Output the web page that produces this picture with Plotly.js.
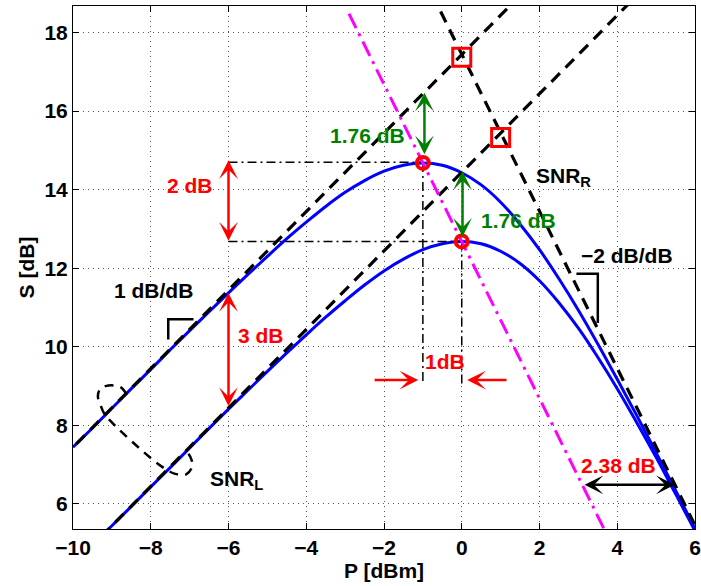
<!DOCTYPE html>
<html>
<head>
<meta charset="utf-8">
<script src="https://cdn.plot.ly/plotly-3.0.1.min.js"></script>
<style>html,body{margin:0;padding:0;background:#fff;}#chart{width:701px;height:586px;}</style>
</head>
<body>
<div id="chart"></div>
<script>
// ---- data ----
const powerP = [-10,-9.5,-9,-8.5,-8,-7.5,-7,-6.5,-6,-5.5,-5,-4.5,-4,-3.5,-3,-2.5,-2,-1.5,-1,-0.5,0,0.5,1,1.5,2,2.5,3,3.5,4,4.5,5,5.5,6];
const snrUpper = [7.44,7.93,8.43,8.93,9.42,9.92,10.41,10.89,11.37,11.84,12.30,12.75,13.17,13.57,13.93,14.23,14.47,14.62,14.68,14.62,14.43,14.12,13.68,13.12,12.47,11.73,10.93,10.07,9.17,8.25,7.30,6.34,5.37];
const snrLower = [4.44,4.94,5.44,5.93,6.43,6.92,7.42,7.92,8.41,8.89,9.37,9.84,10.30,10.75,11.17,11.57,11.93,12.23,12.47,12.62,12.68,12.62,12.43,12.12,11.68,11.12,10.47,9.73,8.93,8.07,7.18,6.25,5.31];

const asymUpperP = [-11, 2];      const asymUpperS = [6.44, 19.44];
const asymLowerP = [-10, 5];      const asymLowerS = [4.44, 19.44];
const asymHighP  = [-1, 6];       const asymHighS  = [19.45, 5.45];
const optLocusP  = [-2.9, 3.65];  const optLocusS  = [18.48, 5.38];

const peakP = [-1, 0];            const peakS = [14.68, 12.68];
const crossP = [0, 1];            const crossS = [17.37, 15.33];

const guideHupP = [-6, -1];       const guideHupS = [14.70, 14.70];
const guideHloP = [-6, 0];        const guideHloS = [12.68, 12.68];
const guideVupP = [-1, -1];       const guideVupS = [14.68, 9.05];
const guideVloP = [0, 0];         const guideVloS = [12.68, 9.05];

const slope1P = [-6.90, -7.55, -7.55];   const slope1S = [10.70, 10.70, 10.18];
const slope2P = [2.95, 3.50, 3.50];      const slope2S = [11.86, 11.86, 10.60];

const braceP = [-8.63,-8.78,-9.09,-9.30,-9.36,-9.28,-9.20,-9.05,-8.01,-7.63,-7.37,-7.09,-6.93,-6.98,-7.09];
const braceS = [8.80,8.97,9.01,8.92,8.74,8.48,8.30,8.12,7.17,6.89,6.76,6.75,6.96,7.19,7.35];

// arrows: [tipP, tipS, tailP, tailS, colour, double]
const arrows = [
  [-6, 14.75, -6, 12.66, 'red', true],
  [-6, 11.37, -6, 8.45, 'red', true],
  [-1.12, 9.15, -2.28, 9.15, 'red', false],
  [0.14, 9.15, 1.19, 9.15, 'red', false],
  [-0.96, 16.47, -0.96, 14.86, '#008000', true],
  [0.02, 14.47, 0.02, 12.76, '#008000', true],
  [5.48, 6.48, 3.12, 6.48, 'black', true]
];

// labels: [text, P, S, colour, size, anchor, family]
const FONT = 'Liberation Sans, Arial, sans-serif';
const NARROW = 'Liberation Sans Narrow, Liberation Sans, Arial, sans-serif';
const labels = [
  ['1.76 dB', -2.42, 15.39, '#008000', 21, 'center', FONT],
  ['1.76 dB', 1.47, 13.21, '#008000', 21, 'center', FONT],
  ['2 dB', -6.98, 14.11, 'red', 21, 'center', FONT],
  ['3 dB', -5.17, 10.29, 'red', 21, 'center', FONT],
  ['1dB', -0.43, 9.61, 'red', 21, 'center', FONT],
  ['2.38 dB', 4.04, 6.97, 'red', 21, 'center', FONT],
  ['1 dB/dB', -7.94, 11.44, 'black', 21, 'center', FONT],
  ['\u22122 dB/dB', 4.26, 12.32, 'black', 21, 'center', FONT],
  ['SNR<sub>R</sub>', 1.86, 14.33, 'black', 21, 'left', NARROW],
  ['SNR<sub>L</sub>', -6.52, 6.61, 'black', 21, 'left', NARROW]
];

const xTicks = [-10,-8,-6,-4,-2,0,2,4,6];
const yTicks = [6,8,10,12,14,16,18];

// ---- traces ----
const traces = [];
const line = (x, y, color, width, dash, shape) => ({
  x, y, type: 'scatter', mode: 'lines', hoverinfo: 'skip', showlegend: false,
  line: {color, width, dash: dash || 'solid', shape: shape || 'linear'}
});
traces.push(line(powerP, snrUpper, '#0000ff', 3, 'solid', 'spline'));
traces.push(line(powerP, snrLower, '#0000ff', 3, 'solid', 'spline'));
traces.push(line(asymUpperP, asymUpperS, 'black', 3.2, '12px,8px'));
traces.push(line(asymLowerP, asymLowerS, 'black', 3.2, '12px,8px'));
traces.push(line(asymHighP, asymHighS, 'black', 3.2, '12px,8px'));
traces.push(line(guideHupP, guideHupS, 'black', 1.5, '9px,4px,2px,4px'));
traces.push(line(guideHloP, guideHloS, 'black', 1.5, '9px,4px,2px,4px'));
traces.push(line(guideVupP, guideVupS, 'black', 1.5, '9px,4px,2px,4px'));
traces.push(line(guideVloP, guideVloS, 'black', 1.5, '9px,4px,2px,4px'));
traces.push(line(optLocusP, optLocusS, '#ff00ff', 3, '16px,6px,3px,6px'));
traces.push(line(slope1P, slope1S, 'black', 2.5));
traces.push(line(slope2P, slope2S, 'black', 2.5));
traces.push(line(braceP, braceS, 'black', 2.5, '9px,7px', 'spline'));
traces.push({x: peakP, y: peakS, type: 'scatter', mode: 'markers', hoverinfo: 'skip', showlegend: false,
  marker: {symbol: 'circle-open', size: 12, color: 'red', line: {color: 'red', width: 4}}});
traces.push({x: crossP, y: crossS, type: 'scatter', mode: 'markers', hoverinfo: 'skip', showlegend: false,
  marker: {symbol: 'square-open', size: 18, color: 'red', line: {color: 'red', width: 3}}});

const annotations = [];
arrows.forEach(a => {
  annotations.push({
    x: a[0], y: a[1], ax: a[2], ay: a[3], xref: 'x', yref: 'y', axref: 'x', ayref: 'y',
    text: '', showarrow: true, arrowhead: 3, startarrowhead: 3,
    arrowside: a[5] ? 'end+start' : 'end', arrowsize: 1.25, startarrowsize: 1.25,
    arrowwidth: 2.5, arrowcolor: a[4], standoff: 0, startstandoff: 0
  });
});
labels.forEach(l => {
  annotations.push({
    text: l[0], x: l[1], y: l[2], xref: 'x', yref: 'y', showarrow: false,
    xanchor: l[5], yanchor: 'middle',
    font: {family: l[6], size: l[4], color: l[3], weight: 'bold'}
  });
});

const axisCommon = {
  ticks: 'inside', ticklen: 6, tickwidth: 1, tickcolor: 'black', mirror: 'ticks',
  showline: true, linecolor: 'black', linewidth: 1,
  showgrid: true, gridcolor: '#555', gridwidth: 1, griddash: '1px,4px',
  zeroline: false, fixedrange: true,
  tickfont: {family: FONT, size: 21, color: 'black', weight: 'bold'}
};

const layout = {
  width: 701, height: 586,
  margin: {l: 72.7, r: 6, t: 5.7, b: 57, pad: 0},
  paper_bgcolor: 'white', plot_bgcolor: 'white',
  showlegend: false,
  xaxis: Object.assign({}, axisCommon, {
    range: [-10, 6], tickmode: 'array', tickvals: xTicks,
    ticktext: xTicks.map(v => v < 0 ? '\u2212' + Math.abs(v) : String(v)),
    title: {text: 'P [dBm]', standoff: 4, font: {family: FONT, size: 21, color: 'black', weight: 'bold'}}
  }),
  yaxis: Object.assign({}, axisCommon, {
    range: [5.356, 18.677], tickmode: 'array', tickvals: yTicks,
    title: {text: 'S [dB]', standoff: 4, font: {family: FONT, size: 21, color: 'black', weight: 'bold'}}
  }),
  annotations
};

Plotly.newPlot('chart', traces, layout, {displayModeBar: false, staticPlot: true});
</script>
</body>
</html>
